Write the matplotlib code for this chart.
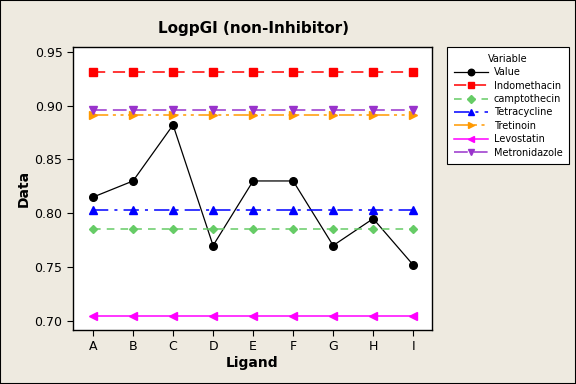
import numpy as np
import matplotlib
matplotlib.use('Agg')
import matplotlib.pyplot as plt

ligands = ['A', 'B', 'C', 'D', 'E', 'F', 'G', 'H', 'I']
value = [0.815, 0.830, 0.882, 0.770, 0.830, 0.830, 0.770, 0.795, 0.752]
indomethacin = [0.931] * 9
camptothecin = [0.785] * 9
tetracycline = [0.803] * 9
tretinoin = [0.891] * 9
levostatin = [0.705] * 9
metronidazole = [0.896] * 9

plt.rcParams['font.family'] = ['DejaVu Sans']

fig = plt.figure(figsize=(5.76, 3.84), dpi=100, facecolor='#EEEAE0')
ax = fig.add_axes([73/576, 1-330/384, (432-73)/576, (330-47)/384])
ax.set_facecolor('white')

x = np.arange(len(ligands))
ax.plot(x, value, color='black', lw=0.9, marker='o', ms=5.5, label='Value')
ax.plot(x, indomethacin, color='#FF0000', lw=1.1, ls=(0, (8, 5)), marker='s', ms=5.5, label='Indomethacin')
ax.plot(x, camptothecin, color='#66CC66', lw=1.1, ls=(0, (5, 4)), marker='D', ms=4.5, label='camptothecin')
ax.plot(x, tetracycline, color='#0000FF', lw=1.1, ls=(0, (10, 4, 2, 4)), marker='^', ms=5.5, label='Tetracycline')
ax.plot(x, tretinoin, color='#FF9900', lw=1.1, ls=(0, (10, 3, 2, 3, 2, 3)), marker='>', ms=5.5, label='Tretinoin')
ax.plot(x, levostatin, color='#FF00FF', lw=1.1, ls='-', marker='<', ms=5.5, label='Levostatin')
ax.plot(x, metronidazole, color='#9933CC', lw=1.1, ls=(0, (9, 4)), marker='v', ms=5.5, label='Metronidazole')

ax.set_xlim(-0.5, 8.47)
ax.set_ylim(0.6916, 0.9544)
ax.set_xticks(x)
ax.set_xticklabels(ligands)
ax.set_yticks([0.70, 0.75, 0.80, 0.85, 0.90, 0.95])
ax.set_yticklabels(['0.70', '0.75', '0.80', '0.85', '0.90', '0.95'])
ax.tick_params(labelsize=9, direction='out', length=4, width=0.8)
ax.set_xlabel('Ligand', fontsize=10, fontweight='bold', labelpad=2)
ax.set_ylabel('Data', fontsize=10, fontweight='bold', labelpad=3)
fig.text(253/576, 1-28/384, 'LogpGI (non-Inhibitor)', ha='center', va='center',
         fontsize=11, fontweight='bold')
for s in ax.spines.values():
    s.set_linewidth(1.0)

leg = ax.legend(title='Variable', loc='upper left', bbox_to_anchor=(447/576, 1-47/384),
                bbox_transform=fig.transFigure, fontsize=7, title_fontsize=7,
                frameon=True, fancybox=False, framealpha=1, edgecolor='black',
                handlelength=3.5, markerscale=0.85, borderpad=0.7, borderaxespad=0,
                labelspacing=0.35, handletextpad=0.6)
leg.get_frame().set_linewidth(0.8)

# border around the whole picture
fig.patches.append(plt.Rectangle((0, 0), 1, 1, transform=fig.transFigure, fill=False,
                                 edgecolor='black', lw=1.5))

fig.savefig('out.png', dpi=100, facecolor=fig.get_facecolor())
